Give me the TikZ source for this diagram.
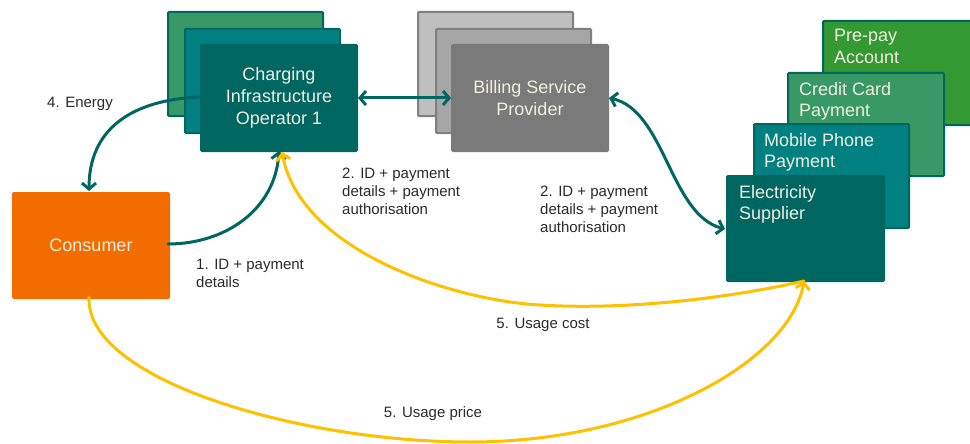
\documentclass[tikz,border=0pt]{standalone}
\usepackage{fontspec}
\setmainfont{Liberation Sans}
\usetikzlibrary{arrows.meta}
\definecolor{dteal}{HTML}{006662}
\definecolor{mteal}{HTML}{008080}
\definecolor{lgreen}{HTML}{389966}
\definecolor{pgreen}{HTML}{349933}
\definecolor{orng}{HTML}{F26C00}
\definecolor{gborder}{HTML}{7F7F7F}
\definecolor{gback}{HTML}{BFBFBF}
\definecolor{gmid}{HTML}{A6A6A6}
\definecolor{gfront}{HTML}{7A7A7A}
\definecolor{yell}{HTML}{FFC000}
\definecolor{boxtext}{HTML}{EFEFE0}
\definecolor{lbltext}{HTML}{2A2A2A}
\tikzset{
  box/.style={rectangle, anchor=north west, inner sep=0, rounded corners=1pt, line width=2pt},
  boxlbl/.style={text=boxtext, font=\fontsize{18}{22}\selectfont, align=center, inner sep=0},
  cornerlbl/.style={text=boxtext, font=\fontsize{18}{21.5}\selectfont, align=left, inner sep=0, anchor=north west},
  lbl/.style={text=lbltext, font=\fontsize{15}{18}\selectfont, align=left, inner sep=0},
  tealarrow/.style={draw=dteal, line width=3pt, line cap=round, {Straight Barb[length=6pt,width=14pt]}-{Straight Barb[length=6pt,width=14pt]}},
  tealto/.style={draw=dteal, line width=3pt, line cap=round, -{Straight Barb[length=6pt,width=14pt]}},
  yellto/.style={draw=yell, line width=3pt, line cap=round, -{Straight Barb[length=6pt,width=14pt]}},
  yellplain/.style={draw=yell, line width=3pt, line cap=round},
}
\begin{document}
\begin{tikzpicture}[x=1pt,y=-1pt]
\useasboundingbox (0,0) rectangle (970,444);
% Charging Infrastructure Operator stack
\node[box, draw=dteal, fill=lgreen, minimum width=155, minimum height=104] (cio1) at (167,11) {};
\node[box, draw=dteal, fill=mteal, minimum width=155, minimum height=104] (cio2) at (184,28) {};
\node[box, draw=dteal, fill=dteal, minimum width=156, minimum height=106] (cio) at (200,44) {};
\node[boxlbl] (ciot) at (cio.center) {Charging\\Infrastructure\\Operator 1};
% Billing stack
\node[box, draw=gborder, fill=gback, minimum width=155, minimum height=104] (bsp1) at (417,11) {};
\node[box, draw=gborder, fill=gmid, minimum width=155, minimum height=104] (bsp2) at (435,28) {};
\node[box, draw=gfront, fill=gfront, minimum width=156, minimum height=106] (bsp) at (451,44) {};
\node[boxlbl] (bspt) at (bsp.center) {Billing Service\\Provider};
% Right stack
\node[box, draw=dteal, fill=pgreen, minimum width=160, minimum height=104] (prepay) at (822,20) {};
\node[box, draw=dteal, fill=lgreen, minimum width=156, minimum height=103] (credit) at (787,72) {};
\node[box, draw=dteal, fill=mteal, minimum width=155, minimum height=104] (mobile) at (753,123) {};
\node[box, draw=dteal, fill=dteal, minimum width=157, minimum height=105] (elec) at (726,175) {};
\node[cornerlbl] (prepayt) at (834,29) {Pre-pay\\Account};
\node[cornerlbl] (creditt) at (799,82) {Credit Card\\Payment};
\node[cornerlbl] (mobilet) at (764,133) {Mobile Phone\\Payment};
\node[cornerlbl] (elect) at (739,185) {Electricity\\Supplier};
% Consumer
\node[box, draw=orng, fill=orng, minimum width=156, minimum height=105] (consumer) at (12,192) {};
\node[boxlbl] (consumert) at (consumer.center) {Consumer};
% Connector anchors
\coordinate (cioL) at (200,97);
\coordinate (cioB) at (279,151);
\coordinate (cioBy) at (282,152);
\coordinate (consT) at (89,191);
\coordinate (consR) at (168,244);
\coordinate (consB) at (89,297);
\coordinate (elecL) at (725,229);
\coordinate (elecB) at (804,281);
% Teal connectors
\draw[tealarrow] (cio.east) -- (bsp.west);
\draw[tealarrow] (bsp.east) .. controls (665,110) and (670,215) .. (elecL);
\draw[tealto] (cioL) .. controls (130,100) and (89,130) .. (consT);
\draw[tealto] (consR) .. controls (225,244) and (275,210) .. (cioB);
% Yellow connectors
\draw[yellto] (elecB) .. controls (720,300) and (620,310) .. (540,305) .. controls (450,300) and (300,250) .. (cioBy);
\draw[yellto] (consB) .. controls (85,380) and (300,442) .. (470,442) .. controls (650,442) and (790,360) .. (elecB);
% Labels
\node[lbl, anchor=center] (energy) at (80,104) {4. Energy};
\node[lbl, anchor=west] (id1) at (196,273) {1. ID + payment\\details};
\node[lbl, anchor=west] (id2a) at (342,191) {2. ID + payment\\details + payment\\authorisation};
\node[lbl, anchor=west] (id2b) at (540,209) {2. ID + payment\\details + payment\\authorisation};
\node[lbl, anchor=center] (cost) at (543,325) {5. Usage cost};
\node[lbl, anchor=center] (price) at (433,414) {5. Usage price};
\end{tikzpicture}
\end{document}
